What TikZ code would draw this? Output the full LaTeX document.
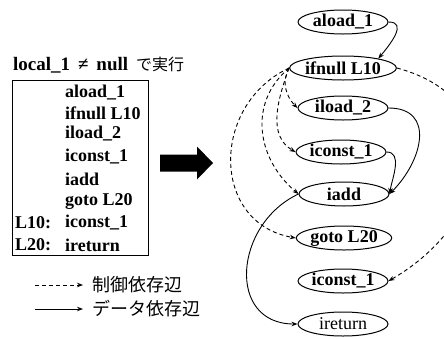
\documentclass[tikz,border=0pt]{standalone}
\usepackage{fontspec}
\setmainfont{Liberation Serif}
\newfontfamily\jp{Noto Sans CJK JP}
\usetikzlibrary{shapes.geometric,arrows.meta}
\tikzset{
  ins/.style={ellipse, draw, line width=1pt, minimum width=90pt, minimum height=24pt, inner sep=0pt, font=\bfseries\fontsize{18}{18}\selectfont},
  code/.style={anchor=west, inner sep=0pt, font=\bfseries\fontsize{18}{18}\selectfont},
  legtext/.style={anchor=west, inner sep=0pt, font=\jp\fontsize{18}{18}\selectfont},
  ctrl/.style={-{Stealth[length=6pt,width=4.5pt]}, line width=0.9pt, dash pattern=on 4pt off 3pt},
  dat/.style={-{Stealth[length=6pt,width=4.5pt]}, line width=0.9pt},
}
\begin{document}
\begin{tikzpicture}[x=1pt,y=-1pt]
\useasboundingbox (0,0) rectangle (444,338);
% listing
\node[code, font=\bfseries\fontsize{19}{19}\selectfont] (head) at (13,65) {local\_1 \,≠\, null \,{\jp\mdseries\fontsize{16}{16}\selectfont で実行}};
\node[draw, line width=0.8pt, minimum width=136pt, minimum height=175pt, inner sep=0pt] (box) at (80,167.5) {};
\node[code] (l1) at (65,93) {aload\_1};
\node[code] (l2) at (65,113) {ifnull L10};
\node[code] (l3) at (65,134) {iload\_2};
\node[code] (l4) at (65,157) {iconst\_1};
\node[code] (l5) at (65,179) {iadd};
\node[code] (l6) at (65,201) {goto L20};
\node[code] (l7) at (65,223) {iconst\_1};
\node[code] (l8) at (65,245) {ireturn};
\node[code] (lab10) at (15,223) {L10:};
\node[code] (lab20) at (15,245) {L20:};
\fill (160,154.5) -- (197,154.5) -- (197,146.5) -- (213,163) -- (197,179.5) -- (197,171.5) -- (160,171.5) -- cycle;
% legend
\coordinate (c0) at (35,285);
\coordinate (c1) at (83,285);
\coordinate (d0) at (35,309);
\coordinate (d1) at (83,309);
\draw[ctrl] (c0) -- (c1);
\draw[dat] (d0) -- (d1);
\node[legtext] (lctrl) at (92,285) {制御依存辺};
\node[legtext] (ldat) at (92,309) {データ依存辺};
% graph
\node[ins] (a1) at (343,22) {aload\_1};
\node[ins] (ifn) at (343,68) {ifnull L10};
\node[ins] (il2) at (343,108) {iload\_2};
\node[ins] (ic1) at (341,152) {iconst\_1};
\node[ins] (iadd) at (344,194) {iadd};
\node[ins] (gt) at (344,238) {goto L20};
\node[ins] (ic2) at (343,281) {iconst\_1};
\node[ins, font=\fontsize{18}{18}\selectfont] (iret) at (343,324) {ireturn};
\draw[dat] (a1.east) to[out=0,in=50,looseness=1.3] (ifn.15);
\draw[ctrl] (ifn.west) to[out=-120,in=135] (il2.west);
\draw[ctrl] (ifn.west) to[out=-110,in=150] (ic1.west);
\draw[ctrl] (ifn.west) to[out=-140,in=140,looseness=1.1] (iadd.west);
\draw[ctrl] (ifn.west) to[out=-155,in=170,looseness=1.3] (gt.west);
\draw[ctrl] (ifn.east) to[out=-15,in=30,looseness=1.45] (ic2.east);
\draw[dat] (il2.east) to[out=0,in=45,looseness=1.4] (iadd.east);
\draw[dat] (ic1.east) to[out=0,in=80] (iadd.east);
\draw[dat] (iadd.west) to[out=-155,in=180,looseness=1.4] (iret.west);
\end{tikzpicture}
\end{document}
